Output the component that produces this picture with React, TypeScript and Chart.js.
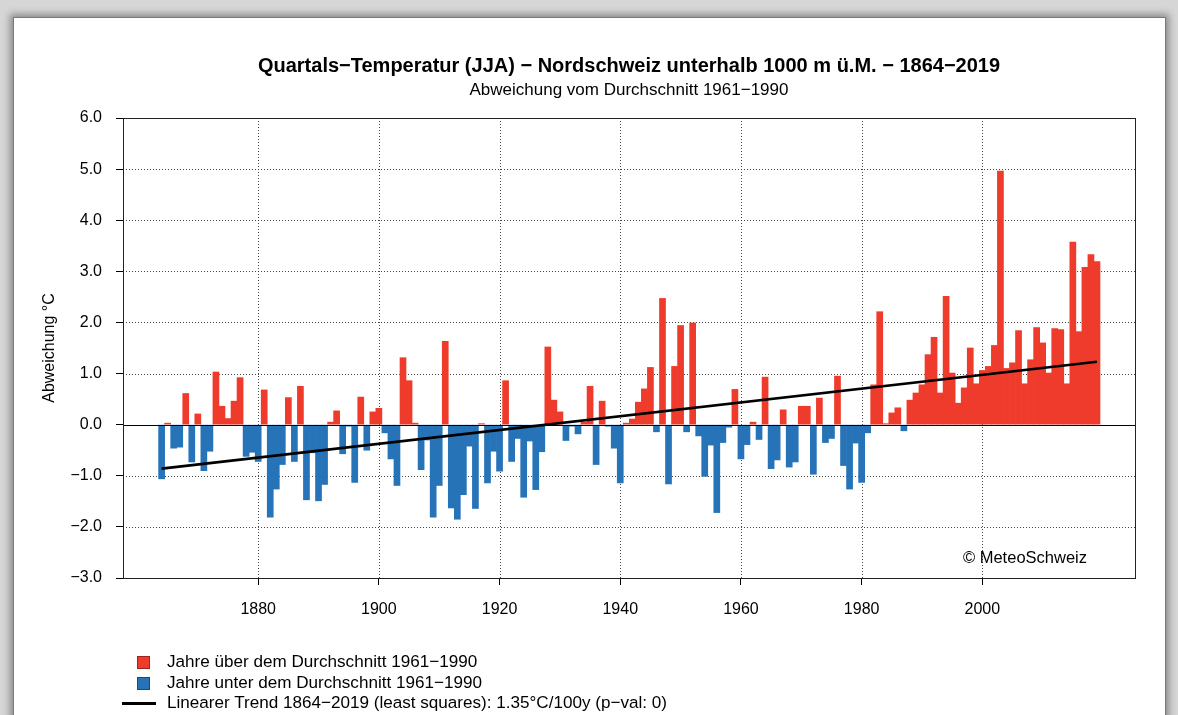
import React, { useEffect, useRef } from "react";
import { Chart, registerables } from "chart.js";

Chart.register(...registerables);

const FONT = "'Liberation Sans', Arial, Helvetica, sans-serif";

const TITLE = "Quartals\u2212Temperatur (JJA) \u2212 Nordschweiz unterhalb 1000 m \u00fc.M. \u2212 1864\u22122019";
const SUBTITLE = "Abweichung vom Durchschnitt 1961\u22121990";
const Y_TITLE = "Abweichung \u00b0C";
const COPYRIGHT = "\u00a9 MeteoSchweiz";
const LEGEND_ABOVE = "Jahre \u00fcber dem Durchschnitt 1961\u22121990";
const LEGEND_BELOW = "Jahre unter dem Durchschnitt 1961\u22121990";
const LEGEND_TREND = "Linearer Trend 1864\u22122019 (least squares): 1.35\u00b0C/100y (p\u2212val: 0)";

const YEARS = [
  1864, 1865, 1866, 1867, 1868, 1869, 1870, 1871, 1872, 1873,
  1874, 1875, 1876, 1877, 1878, 1879, 1880, 1881, 1882, 1883,
  1884, 1885, 1886, 1887, 1888, 1889, 1890, 1891, 1892, 1893,
  1894, 1895, 1896, 1897, 1898, 1899, 1900, 1901, 1902, 1903,
  1904, 1905, 1906, 1907, 1908, 1909, 1910, 1911, 1912, 1913,
  1914, 1915, 1916, 1917, 1918, 1919, 1920, 1921, 1922, 1923,
  1924, 1925, 1926, 1927, 1928, 1929, 1930, 1931, 1932, 1933,
  1934, 1935, 1936, 1937, 1938, 1939, 1940, 1941, 1942, 1943,
  1944, 1945, 1946, 1947, 1948, 1949, 1950, 1951, 1952, 1953,
  1954, 1955, 1956, 1957, 1958, 1959, 1960, 1961, 1962, 1963,
  1964, 1965, 1966, 1967, 1968, 1969, 1970, 1971, 1972, 1973,
  1974, 1975, 1976, 1977, 1978, 1979, 1980, 1981, 1982, 1983,
  1984, 1985, 1986, 1987, 1988, 1989, 1990, 1991, 1992, 1993,
  1994, 1995, 1996, 1997, 1998, 1999, 2000, 2001, 2002, 2003,
  2004, 2005, 2006, 2007, 2008, 2009, 2010, 2011, 2012, 2013,
  2014, 2015, 2016, 2017, 2018, 2019,
];

const ANOMALY = [
  -1.06, 0.03, -0.46, -0.44, 0.61, -0.73, 0.21, -0.9, -0.52, 1.03,
  0.36, 0.12, 0.46, 0.92, -0.62, -0.54, -0.72, 0.68, -1.81, -1.26,
  -0.78, 0.53, -0.72, 0.75, -1.47, -0.55, -1.49, -1.17, 0.05, 0.27,
  -0.57, -0.03, -1.13, 0.54, -0.5, 0.25, 0.32, -0.16, -0.67, -1.19,
  1.31, 0.86, 0.03, -0.88, -0.3, -1.81, -1.19, 1.63, -1.63, -1.85,
  -1.37, -0.42, -1.64, 0.02, -1.14, -0.52, -0.91, 0.86, -0.72, -0.27,
  -1.42, -0.32, -1.27, -0.53, 1.52, 0.48, 0.25, -0.31, -0.03, -0.18,
  0.05, 0.75, -0.78, 0.46, -0.03, -0.46, -1.14, 0.03, 0.11, 0.44,
  0.7, 1.12, -0.14, 2.47, -1.16, 1.14, 1.94, -0.14, 1.99, -0.22,
  -1.01, -0.4, -1.72, -0.35, -0.05, 0.69, -0.67, -0.39, 0.05, -0.29,
  0.93, -0.86, -0.69, 0.29, -0.83, -0.73, 0.36, 0.36, -0.97, 0.52,
  -0.35, -0.27, 0.95, -0.8, -1.26, -0.36, -1.13, -0.16, 0.78, 2.21,
  0.02, 0.23, 0.33, -0.12, 0.48, 0.62, 0.78, 1.37, 1.71, 0.62,
  2.51, 1.01, 0.42, 0.72, 1.5, 0.8, 1.06, 1.14, 1.55, 4.96,
  1.1, 1.21, 1.84, 0.8, 1.27, 1.9, 1.6, 1.01, 1.88, 1.86,
  0.8, 3.57, 1.82, 3.08, 3.33, 3.19,
];

const TREND_YEARS = [1864, 2019];
const TREND_VALUES = [-0.86, 1.23];

const X_TICKS = [1880, 1900, 1920, 1940, 1960, 1980, 2000];
const X_MIN = 1857.6;
const X_MAX = 2025.3;
const Y_MIN = -3;
const Y_MAX = 6;
const Y_GRID = [-2, -1, 1, 2, 3, 4, 5];

const RED = "#EF3B2C";
const BLUE = "#2773B8";

const fmtY = (v: number) => (v < 0 ? "\u2212" : "") + Math.abs(v).toFixed(1);

const decor = {
  id: "decor",
  beforeDatasetsDraw(chart: any) {
    const { ctx, chartArea: a, scales } = chart;
    const x = scales.x;
    const y = scales.y;
    ctx.save();
    ctx.beginPath();
    ctx.rect(a.left, a.top, a.right - a.left, a.bottom - a.top);
    ctx.clip();
    ctx.strokeStyle = "rgba(40,40,40,0.85)";
    ctx.lineWidth = 1;
    ctx.setLineDash([1, 2]);
    for (const v of Y_GRID) {
      const py = Math.round(y.getPixelForValue(v)) + 0.5;
      ctx.beginPath();
      ctx.moveTo(a.left, py);
      ctx.lineTo(a.right, py);
      ctx.stroke();
    }
    for (const v of X_TICKS) {
      const px = Math.round(x.getPixelForValue(v)) + 0.5;
      ctx.beginPath();
      ctx.moveTo(px, a.top);
      ctx.lineTo(px, a.bottom);
      ctx.stroke();
    }
    ctx.restore();
  },
  afterDatasetsDraw(chart: any) {
    const { ctx, chartArea: a, scales } = chart;
    const y = scales.y;
    ctx.save();
    ctx.strokeStyle = "#000";
    ctx.lineWidth = 1;
    ctx.setLineDash([]);
    const pz = Math.round(y.getPixelForValue(0)) + 0.5;
    ctx.beginPath();
    ctx.moveTo(a.left, pz);
    ctx.lineTo(a.right, pz);
    ctx.stroke();
    ctx.strokeStyle = "#222";
    ctx.strokeRect(Math.round(a.left) + 0.5, Math.round(a.top) + 0.5, Math.round(a.right - a.left), Math.round(a.bottom - a.top));
    ctx.fillStyle = "#000";
    ctx.font = "16.5px " + FONT;
    ctx.textAlign = "right";
    ctx.textBaseline = "middle";
    ctx.fillText(COPYRIGHT, a.right - 48, a.bottom - 20);
    ctx.restore();
  },
};

export default function App() {
  const ref = useRef<HTMLCanvasElement>(null);

  useEffect(() => {
    const canvas = ref.current;
    if (!canvas) return;
    Chart.defaults.font.family = FONT;
    Chart.defaults.color = "#000";

    const chart = new Chart(canvas, {
      type: "bar",
      data: {
        datasets: [
          {
            type: "line",
            label: LEGEND_TREND,
            data: TREND_YEARS.map((yr, i) => ({ x: yr, y: TREND_VALUES[i] })),
            borderColor: "#000",
            borderWidth: 2.6,
            pointRadius: 0,
            fill: false,
            order: 0,
          } as any,
          {
            type: "bar",
            label: "Jahre",
            data: YEARS.map((yr, i) => ({ x: yr, y: ANOMALY[i] })),
            backgroundColor: ANOMALY.map((v) => (v >= 0 ? RED : BLUE)),
            borderWidth: 0,
            barPercentage: 1,
            categoryPercentage: 1,
            order: 1,
          } as any,
        ],
      },
      options: {
        responsive: false,
        animation: false,
        devicePixelRatio: 1,
        events: [],
        layout: { padding: { left: 30, right: 43, top: 54, bottom: 0 } },
        plugins: {
          legend: { display: false },
          tooltip: { enabled: false },
          title: {
            display: true,
            fullSize: false,
            text: TITLE,
            color: "#000",
            font: { size: 20, weight: "bold", family: FONT },
            padding: { top: 0, bottom: 0 },
          },
          subtitle: {
            display: true,
            fullSize: false,
            text: SUBTITLE,
            color: "#000",
            font: { size: 17, family: FONT },
            padding: { top: 1.8, bottom: 17.8 },
          },
        },
        scales: {
          x: {
            type: "linear",
            min: X_MIN,
            max: X_MAX,
            offset: false,
            grid: {
              display: true,
              drawOnChartArea: false,
              drawTicks: true,
              tickLength: 7,
              tickColor: "#000",
              tickWidth: 1,
              offset: false,
            },
            border: { display: false },
            ticks: {
              color: "#000",
              font: { size: 16, family: FONT },
              padding: 15.4,
              autoSkip: false,
              maxRotation: 0,
              callback: (v: any) => String(v),
            },
            afterBuildTicks: (s: any) => {
              s.ticks = X_TICKS.map((value) => ({ value }));
            },
            afterFit: (s: any) => {
              s.height = 137;
            },
          },
          y: {
            type: "linear",
            min: Y_MIN,
            max: Y_MAX,
            grid: {
              display: true,
              drawOnChartArea: false,
              drawTicks: true,
              tickLength: 7,
              tickColor: "#000",
              tickWidth: 1,
            },
            border: { display: false },
            ticks: {
              stepSize: 1,
              color: "#000",
              font: { size: 16, family: FONT },
              padding: 14,
              callback: (v: any) => fmtY(Number(v)),
            },
            title: {
              display: true,
              text: Y_TITLE,
              color: "#000",
              font: { size: 16, family: FONT },
              padding: { top: 10.4, bottom: 0 },
            },
            afterFit: (s: any) => {
              s.width = 93;
            },
          },
        },
      } as any,
      plugins: [decor],
    });
    return () => chart.destroy();
  }, []);

  const legendText: React.CSSProperties = {
    position: "absolute",
    left: 167,
    height: 20,
    lineHeight: "20px",
    fontFamily: FONT,
    fontSize: "17.1px",
    color: "#000",
    whiteSpace: "nowrap",
  };
  const swatch = (color: string, top: number): React.CSSProperties => ({
    position: "absolute",
    left: 137,
    top,
    width: 11,
    height: 11,
    background: color,
    border: "1px solid rgba(0,0,0,0.35)",
  });

  return (
    <div
      style={{
        position: "absolute",
        left: 0,
        top: 0,
        width: 1178,
        height: 715,
        overflow: "hidden",
        background: "#d6d6d6",
      }}
    >
      <div
        style={{
          position: "absolute",
          left: 13,
          top: 17,
          width: 1151,
          height: 730,
          background: "#fff",
          border: "1px solid #7a7a7a",
          boxShadow: "0 0 7px 3px rgba(0,0,0,0.35)",
        }}
      />
      <canvas
        ref={ref}
        width={1178}
        height={715}
        style={{ position: "absolute", left: 0, top: 0, width: 1178, height: 715 }}
      />
      <div style={swatch(RED, 656)} />
      <div style={{ ...legendText, top: 652 }}>{LEGEND_ABOVE}</div>
      <div style={swatch(BLUE, 677)} />
      <div style={{ ...legendText, top: 673 }}>{LEGEND_BELOW}</div>
      <div
        style={{
          position: "absolute",
          left: 122,
          top: 702,
          width: 34,
          height: 3,
          background: "#000",
        }}
      />
      <div style={{ ...legendText, top: 693 }}>{LEGEND_TREND}</div>
    </div>
  );
}
